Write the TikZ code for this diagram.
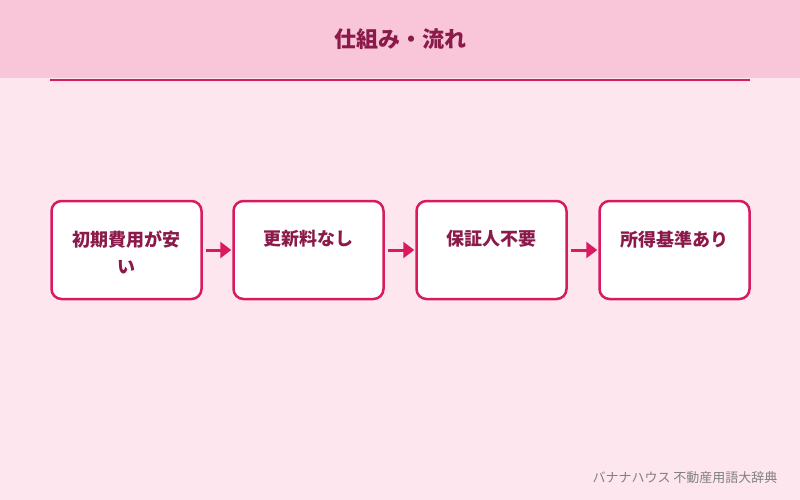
\documentclass[tikz,border=0pt]{standalone}
\usepackage{fontspec}
\setmainfont{Noto Sans CJK JP}
\usetikzlibrary{positioning,arrows.meta}
\definecolor{bgpink}{HTML}{FDE6EE}
\definecolor{headpink}{HTML}{F8C6D8}
\definecolor{rosered}{HTML}{D81B60}
\definecolor{darkrose}{HTML}{8B1A4A}
\begin{document}
\begin{tikzpicture}[x=1pt,y=-1pt,
	stepbox/.style={draw=rosered,line width=2.5pt,fill=white,rounded corners=10pt,minimum width=150pt,minimum height=98pt},
	steptext/.style={anchor=north,text width=134pt,align=center,font=\fontsize{18}{27}\selectfont\bfseries,text=darkrose},
	flow/.style={-{Triangle[length=11pt,width=16pt]},draw=rosered,line width=3pt}]
\fill[bgpink] (0,0) rectangle (800,500);
\fill[headpink] (0,0) rectangle (800,78);
\draw[rosered,line width=1.2pt] (50,80) -- (750,80);
\node[font=\fontsize{22}{26}\selectfont\bfseries,text=darkrose] (title) at (400,39) {仕組み・流れ};
\node[stepbox] (s1) at (126.5,250) {};
\node[stepbox] (s2) at (308.5,250) {};
\node[stepbox] (s3) at (491.5,250) {};
\node[stepbox] (s4) at (674.5,250) {};
\node[steptext] (t1) at (126.5,227) {初期費用が安\\い};
\node[steptext] (t2) at (308.5,227) {更新料なし};
\node[steptext] (t3) at (491.5,227) {保証人不要};
\node[steptext] (t4) at (674.5,227) {所得基準あり};
\draw[flow] (s1.east) ++(3,0) coordinate (a1) -- ([xshift=-1pt]s2.west);
\draw[flow] (s2.east) ++(3,0) coordinate (a2) -- ([xshift=-1pt]s3.west);
\draw[flow] (s3.east) ++(3,0) coordinate (a3) -- ([xshift=-1pt]s4.west);
\node[anchor=east,font=\fontsize{13}{15}\selectfont,text=gray] (foot) at (781,478) {バナナハウス 不動産用語大辞典};
\end{tikzpicture}
\end{document}
